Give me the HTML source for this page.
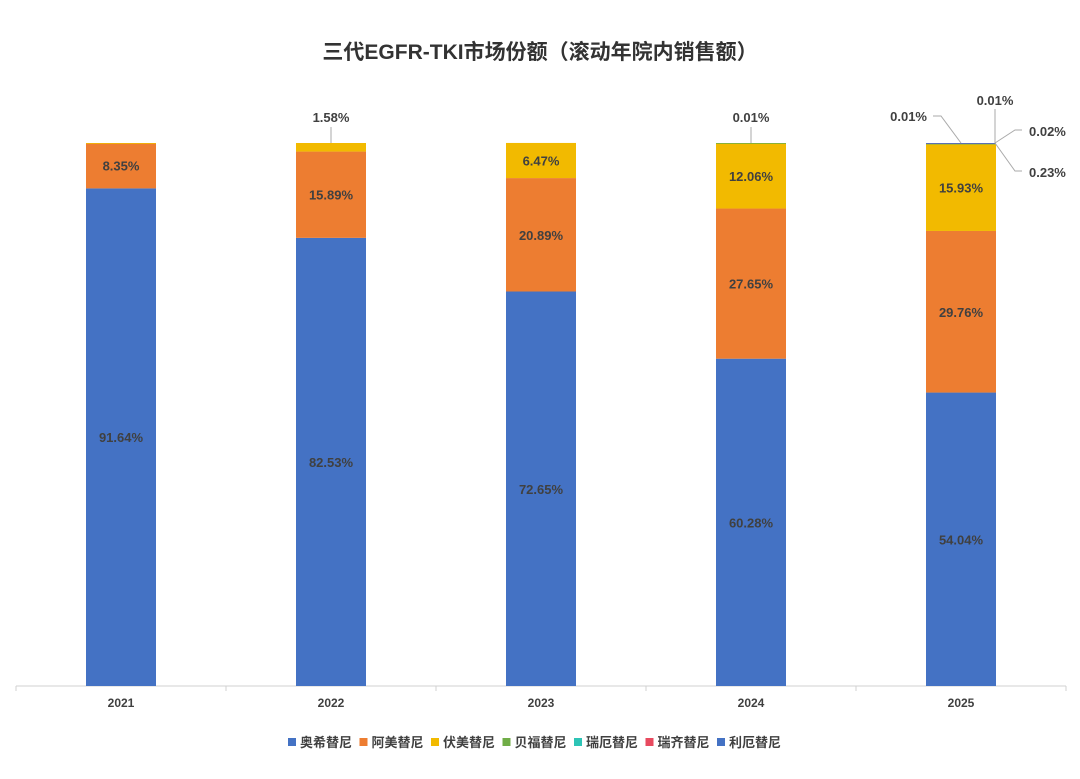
<!DOCTYPE html>
<html><head><meta charset="utf-8">
<style>
body{margin:0;background:#fff;width:1080px;height:774px;overflow:hidden}
svg text{font-family:"Liberation Sans","Noto Sans CJK SC",sans-serif}
</style></head>
<body>
<svg id="chart" width="1080" height="774" viewBox="0 0 1080 774">
<text x="540" y="59" text-anchor="middle" font-size="21" font-weight="bold" fill="#333">三代EGFR-TKI市场份额（滚动年院内销售额）</text>
<g id="plot"></g>
<g id="legend"></g>
</svg>
<script>
const categories = ["2021","2022","2023","2024","2025"];
const seriesNames = ["奥希替尼","阿美替尼","伏美替尼","贝福替尼","瑞厄替尼","瑞齐替尼","利厄替尼"];
const osimertinib = [91.64,82.53,72.65,60.28,54.04];
const almonertinib = [8.35,15.89,20.89,27.65,29.76];
const furmonertinib = [0.01,1.58,6.47,12.06,15.93];
const befotertinib = [0,0,0,0.01,0.23];
const rezivertinib = [0,0,0,0,0.02];
const ruiqi = [0,0,0,0,0.01];
const lazertinib = [0,0,0,0,0.01];
const series = [osimertinib,almonertinib,furmonertinib,befotertinib,rezivertinib,ruiqi,lazertinib];
const colors = ["#4472C4","#ED7D31","#F2BA00","#70AD47","#2EC4B6","#E84A5F","#4472C4"];

const NS="http://www.w3.org/2000/svg";
const plot=document.getElementById('plot');
const x0=16,bandW=210,barW=70,yBase=686,yTop=143;
const xScale=i=>x0+bandW*i+bandW/2;
const yScale=v=>yBase-(v/100)*(yBase-yTop);
function mk(tag,attrs,parent){const e=document.createElementNS(NS,tag);for(const k in attrs)e.setAttribute(k,attrs[k]);(parent||plot).appendChild(e);return e;}

const ax=mk('line',{x1:x0,x2:x0+bandW*categories.length,y1:yBase,y2:yBase,stroke:'#d0d0d0','stroke-width':1});


for(let i=0;i<=categories.length;i++){
  const t=mk('line',{x1:x0+bandW*i,x2:x0+bandW*i,y1:yBase,y2:yBase+5,stroke:'#d0d0d0'});
  
  
}
categories.forEach((c,i)=>{
  const t=mk('text',{x:xScale(i),y:yBase+21,'text-anchor':'middle','font-size':12,'font-weight':'bold',fill:'#404040'});
  t.textContent=c;
  
  
});

categories.forEach((c,i)=>{
  let cum=0;const cx=xScale(i);const small=[];
  series.forEach((s,k)=>{
    const v=s[i];if(v<=0)return;
    const y1=yScale(cum),y2=yScale(cum+v);cum+=v;
    const r=mk('rect',{x:cx-barW/2,y:y2,width:barW,height:Math.max(y1-y2,0.8),fill:colors[k]});
    
    
    if(v>=3){
      const t=mk('text',{x:cx,y:(y1+y2)/2+5,'text-anchor':'middle','font-size':13,'font-weight':'bold',fill:'#404040'});
      t.textContent=v.toFixed(2)+'%';
      
      
    } else if(!(i===0&&v<0.05)) small.push({v,y:y2});
  });
  if(small.length===1){
    const sm=small[0];
    const t=mk('text',{x:cx,y:yTop-21,'text-anchor':'middle','font-size':13,'font-weight':'bold',fill:'#404040'});
    t.textContent=sm.v.toFixed(2)+'%';
    
    
    const l=mk('line',{x1:cx,x2:cx,y1:yTop-16,y2:sm.y,stroke:'#aaa'});
    
    
  } else if(small.length>1){
    const rx=cx+barW/2-1;
    // callout layouts (styling): [points, labelX, labelY, anchor]
    const layouts=[
      [[[rx,0],[rx+20,-13],[rx+27,-13]],rx+29,-8,'start'],   // bottom small seg (0.23) -> drawn below-right
      [[[rx,0],[rx+20,-13],[rx+27,-13]],rx+29,-8,'start'],
      [[[rx,0],[rx,-34]],rx,-38,'middle'],
      [[[cx,0],[cx-20,-27],[cx-28,-27]],cx-34,-22,'end']
    ];
    const rev=small.slice().reverse(); // top-most first
    const lay=[layouts[3],layouts[2],layouts[1]];
    rev.forEach((sm,j)=>{
      let pts,lxp,lyp,anc;
      const b=yTop;
      if(j===rev.length-1){ // lowest small segment: goes down-right
        pts=[[rx,b],[rx+20,b+28],[rx+27,b+28]];lxp=rx+34;lyp=b+34;anc='start';
      } else {
        const L=lay[j];
        pts=L[0].map(p=>[p[0],b+p[1]]);lxp=L[1]+(L[3]==='start'?5:0);lyp=b+L[2]-(L[3]==='start'?-1:0);anc=L[3];
      }
      const l=mk('polyline',{points:pts.map(p=>p.join(',')).join(' '),fill:'none',stroke:'#aaa'});
      
      
      const t=mk('text',{x:lxp,y:lyp,'text-anchor':anc,'font-size':13,'font-weight':'bold',fill:'#404040'});
      t.textContent=sm.v.toFixed(2)+'%';
      
      
    });
  }
});

const lg=document.getElementById('legend');
let lx=288;
seriesNames.forEach((n,k)=>{
  const r=mk('rect',{x:lx,y:738,width:8,height:8,fill:colors[k]},lg);
  
  
  const t=mk('text',{x:lx+12,y:747,'font-size':13,'font-weight':'bold',fill:'#404040'},lg);
  t.textContent=n;
  
  
  lx+=71.5;
});
</script>
</body></html>
